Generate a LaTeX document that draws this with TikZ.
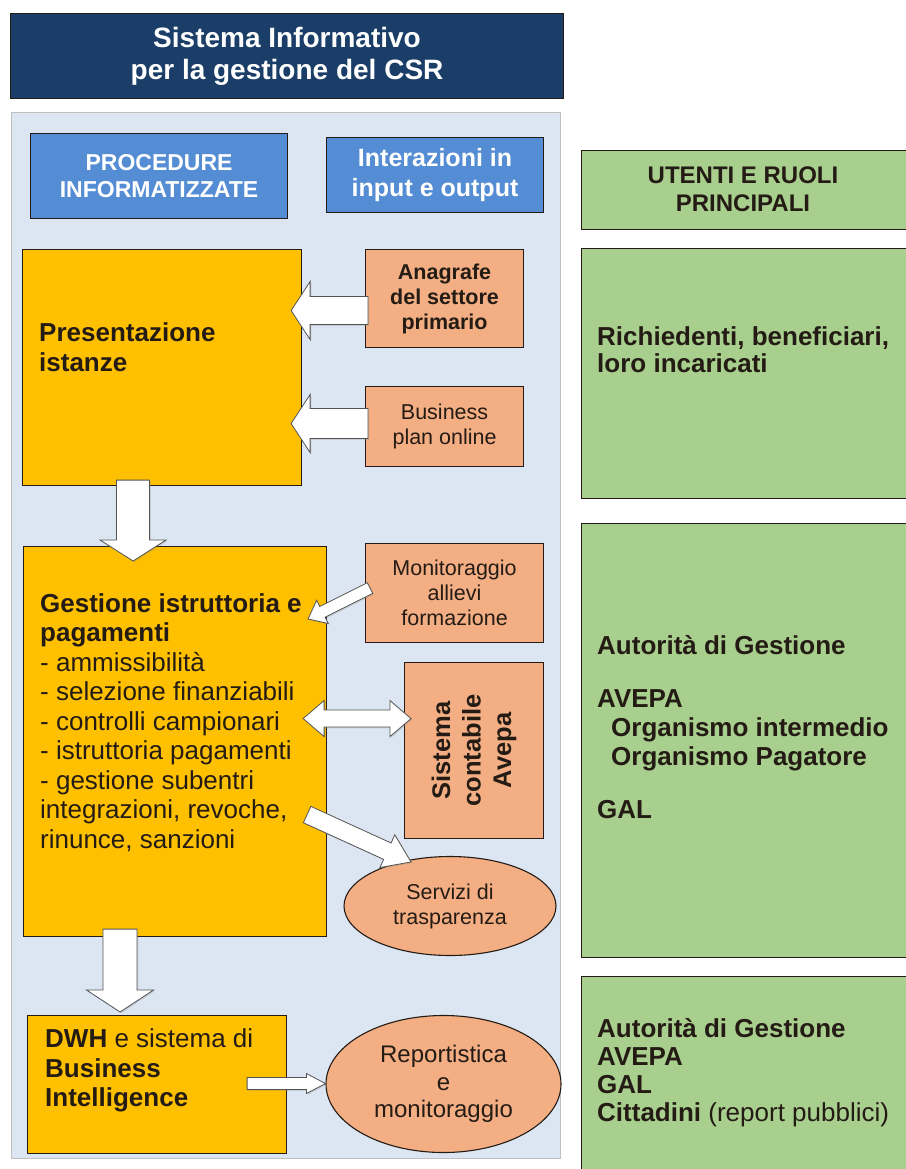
\documentclass[tikz,border=0pt]{standalone}
\usepackage{fontspec}
\setmainfont{Liberation Sans}
\usetikzlibrary{calc,shapes.geometric,shadows}
\definecolor{navy}{RGB}{27,62,104}
\definecolor{paleblue}{RGB}{220,230,242}
\definecolor{hdblue}{RGB}{84,141,212}
\definecolor{amber}{RGB}{255,192,0}
\definecolor{salmon}{RGB}{243,174,132}
\definecolor{sage}{RGB}{168,207,142}
\definecolor{ink}{RGB}{36,28,20}
\tikzset{
  plate/.style={draw=ink,line width=1.1pt,anchor=north west,inner sep=0pt,align=center},
  hdr/.style={plate,fill=hdblue,text=white},
  proc/.style={plate,fill=amber},
  io/.style={plate,fill=salmon,text=ink,font=\fontsize{21.5}{25}\selectfont},
  io oval/.style={ellipse,draw=ink,line width=1.1pt,fill=salmon,text=ink,inner sep=0pt,
    align=center,font=\fontsize{21.5}{25}\selectfont},
  role/.style={plate,fill=sage},
  body/.style={anchor=west,inner sep=0pt,align=left,text=ink,font=\fontsize{26}{29.5}\selectfont},
  fat/.style={fill=white,draw=gray!65!black,line width=0.8pt,
    drop shadow={opacity=0.25,shadow xshift=1.2pt,shadow yshift=-1.2pt}},
}
% block arrow: [opts] tail, tip, shaft half width, head half width, head length
\newcommand\fatarrow[6][]{%
  \coordinate (fa-h) at ($(#3)!#6!(#2)$);
  \filldraw[fat,#1] ($(#2)!#4!90:(#3)$) -- ($(fa-h)!#4!90:(#3)$) -- ($(fa-h)!#5!90:(#3)$) -- (#3)
    -- ($(fa-h)!#5!-90:(#3)$) -- ($(fa-h)!#4!-90:(#3)$) -- ($(#2)!#4!-90:(#3)$) -- cycle;
}
% two-headed block arrow: tip, tip, shaft half width, head half width, head length
\newcommand\fatdarrow[5]{%
  \coordinate (fa-a) at ($(#1)!#5!(#2)$);
  \coordinate (fa-b) at ($(#2)!#5!(#1)$);
  \filldraw[fat] (#1) -- ($(fa-a)!#4!90:(#2)$) -- ($(fa-a)!#3!90:(#2)$) -- ($(fa-b)!#3!90:(#2)$)
    -- ($(fa-b)!#4!90:(#2)$) -- (#2) -- ($(fa-b)!#4!-90:(#2)$) -- ($(fa-b)!#3!-90:(#2)$)
    -- ($(fa-a)!#3!-90:(#2)$) -- ($(fa-a)!#4!-90:(#2)$) -- cycle;
}

\begin{document}
\begin{tikzpicture}[x=1pt,y=-1pt]
\useasboundingbox[fill=white] (0,0) rectangle (905,1169);

% title and panel
\node[plate,fill=navy,text=white,font=\fontsize{28}{32}\selectfont\bfseries,
  minimum width=553,minimum height=85] (title) at (10,13) {Sistema Informativo\\per la gestione del CSR};
\node[plate,draw=gray!50,line width=1pt,fill=paleblue,minimum width=549,minimum height=1046] (panel) at (11,112) {};
\node[hdr,font=\fontsize{23}{27}\selectfont\bfseries,minimum width=257,minimum height=85] (proc) at (30,133) {PROCEDURE\\INFORMATIZZATE};
\node[hdr,font=\fontsize{25}{30}\selectfont\bfseries,minimum width=217,minimum height=75] (inter) at (326,137) {Interazioni in\\input e output};

% procedures
\node[proc,minimum width=279,minimum height=236] (pres) at (22,249) {};
\node[body,font=\fontsize{26}{30}\selectfont\bfseries] (pres-t) at ($(pres.west)+(17,-20)$) {Presentazione\\istanze};
\node[proc,minimum width=303,minimum height=390] (gest) at (23,546) {};
\node[body] (gest-t) at ($(gest.west)+(17,-19)$) {\textbf{Gestione istruttoria e}\\\textbf{pagamenti}\\- ammissibilità\\- selezione finanziabili\\- controlli campionari\\- istruttoria pagamenti\\- gestione subentri\\integrazioni, revoche,\\rinunce, sanzioni};
\node[proc,minimum width=259,minimum height=138] (dwh) at (27,1015) {};
\node[body] (dwh-t) at ($(dwh.west)+(18,-14)$) {\textbf{DWH} e sistema di\\\textbf{Business}\\\textbf{Intelligence}};

% inputs and outputs
\node[io,font=\fontsize{21.5}{25}\selectfont\bfseries,minimum width=158,minimum height=98] (anag) at (365,249) {Anagrafe\\del settore\\primario};
\node[io,minimum width=158,minimum height=80] (biz) at (365,386) {Business\\plan online};
\node[io,minimum width=178,minimum height=99] (mon) at (365,543) {Monitoraggio\\allievi\\formazione};
\node[io,minimum width=139,minimum height=176] (sis) at (404,662) {};
\node[rotate=90,inner sep=0pt,align=center,text=ink,font=\fontsize{25.5}{30.5}\selectfont\bfseries] (sis-t) at (sis.center) {Sistema\\contabile\\Avepa};
\node[io oval,minimum width=212,minimum height=99] (serv) at (450,906) {Servizi di\\trasparenza};
\node[io oval,font=\fontsize{24}{27.5}\selectfont,minimum width=235,minimum height=137] (rep) at (443.5,1084) {Reportistica\\e\\monitoraggio};

% users and roles
\node[role,minimum width=330,minimum height=79] (roles) at (581,150) {};
\node[align=center,inner sep=0pt,text=ink,font=\fontsize{24}{28}\selectfont\bfseries] (roles-t) at (743,189.5) {UTENTI E RUOLI\\PRINCIPALI};
\node[role,minimum width=330,minimum height=250] (r1) at (581,248) {};
\node[body,font=\fontsize{26}{27}\selectfont\bfseries] (r1-t) at (597,350) {Richiedenti, beneficiari,\\loro incaricati};
\node[role,minimum width=330,minimum height=434] (r2) at (581,523) {};
\node[body,font=\fontsize{26}{29}\selectfont\bfseries] (r2-t) at (597,727) {Autorità di Gestione\\[24pt]AVEPA\\\hspace*{14pt}Organismo intermedio\\\hspace*{14pt}Organismo Pagatore\\[24pt]GAL};
\node[role,minimum width=330,minimum height=210] (r3) at (581,976) {};
\node[body,font=\fontsize{26}{28}\selectfont\bfseries] (r3-t) at (597,1073) {Autorità di Gestione\\AVEPA\\GAL\\Cittadini \mdseries(report pubblici)};

% block arrows
\coordinate (a1) at ($(anag.west)+(3,12)$);
\coordinate (a1t) at ($(pres.east |- a1)+(-11,0)$);
\fatarrow{a1}{a1t}{14pt}{29pt}{19pt}
\coordinate (a2) at ($(biz.west)+(3,-3)$);
\coordinate (a2t) at ($(pres.east |- a2)+(-11,0)$);
\fatarrow{a2}{a2t}{15pt}{29pt}{19pt}
\coordinate (a3) at ($(pres.south)+(-29,-6)$);
\coordinate (a3t) at ($(gest.north -| a3)+(0,15)$);
\fatarrow{a3}{a3t}{16.5pt}{33pt}{21pt}
\coordinate (a4) at ($(mon.west)+(5,-5)$);
\coordinate (a4t) at ($(gest.north east)+(-19,73)$);
\fatarrow{a4}{a4t}{6pt}{13pt}{16pt}
\coordinate (a5) at ($(gest.east)+(-24,-23)$);
\coordinate (a5t) at ($(sis.west)+(7,-32)$);
\fatdarrow{a5}{a5t}{8.5pt}{18pt}{21pt}
\coordinate (a6) at ($(gest.east)+(-20,73)$);
\coordinate (a6t) at ($(serv.north)+(-39,6)$);
\fatarrow{a6}{a6t}{9pt}{18pt}{26pt}
\coordinate (a7) at ($(gest.south)+(-55,-8)$);
\coordinate (a7t) at ($(dwh.north -| a7)+(0,-3)$);
\fatarrow{a7}{a7t}{17pt}{33.5pt}{22pt}
\coordinate (a8) at ($(dwh.east)+(-40,-1)$);
\coordinate (a8t) at ($(rep.west |- a8)+(0,0)$);
\fatarrow{a8}{a8t}{6pt}{10pt}{19pt}
\end{tikzpicture}
\end{document}
